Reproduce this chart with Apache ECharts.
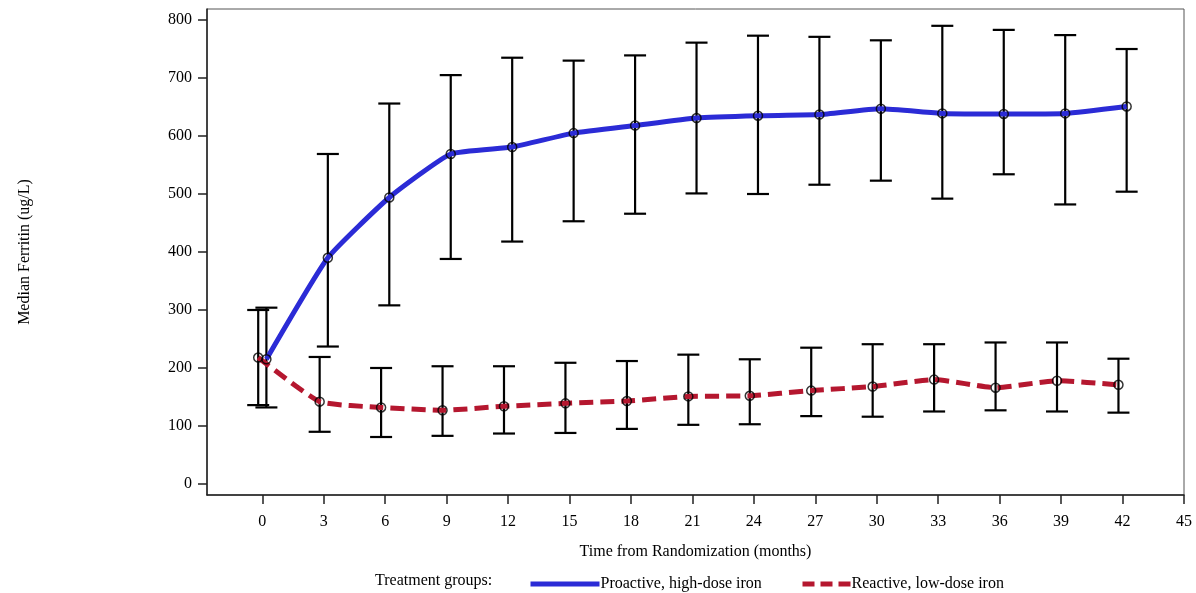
<!DOCTYPE html>
<html>
<head>
<meta charset="utf-8">
<script src="https://cdn.jsdelivr.net/npm/echarts@6/dist/echarts.min.js"></script>
<style>
html,body{margin:0;padding:0;background:#fff;}
#chart{width:1196px;height:593px;}
</style>
</head>
<body>
<div id="chart"></div>
<script>
// ---- data ----
var months = [0, 3, 6, 9, 12, 15, 18, 21, 24, 27, 30, 33, 36, 39, 42];
var proMedian = [214, 389, 493, 568, 580, 604, 617, 630, 634, 636, 646, 638, 637, 638, 650];
var proLow    = [131, 236, 307, 387, 417, 452, 465, 500, 499, 515, 522, 491, 533, 481, 503];
var proHigh   = [303, 568, 655, 704, 734, 729, 738, 760, 772, 770, 764, 789, 782, 773, 749];
var reaMedian = [217, 141, 131, 126, 133, 138, 142, 150, 151, 160, 167, 179, 165, 177, 170];
var reaLow    = [135, 89, 80, 82, 86, 87, 94, 101, 102, 116, 115, 124, 126, 124, 122];
var reaHigh   = [299, 218, 199, 202, 202, 208, 211, 222, 214, 234, 240, 240, 243, 243, 215];
var xTicks = [0, 3, 6, 9, 12, 15, 18, 21, 24, 27, 30, 33, 36, 39, 42, 45];
var yTicks = [0, 100, 200, 300, 400, 500, 600, 700, 800];
var proName = 'Proactive, high-dose iron';
var reaName = 'Reactive, low-dose iron';

// ---- layout / style ----
var proShift = 0.2, reaShift = -0.2;
var FONT = '"Liberation Serif", "DejaVu Serif", serif';
var BLUE = '#2b2bd6', RED = '#b5172f';

function pts(shift, vals) { return months.map(function (m, i) { return [m + shift, vals[i]]; }); }
function bars(shift, lo, hi) { return months.map(function (m, i) { return [m + shift, lo[i], hi[i]]; }); }

function errRender(params, api) {
  var x = api.value(0), lo = api.value(1), hi = api.value(2);
  var pHi = api.coord([x, hi]), pLo = api.coord([x, lo]);
  var w = 11;
  var st = { stroke: '#000', lineWidth: 2.2 };
  return { type: 'group', children: [
    { type: 'line', shape: { x1: pHi[0], y1: pHi[1], x2: pLo[0], y2: pLo[1] }, style: st },
    { type: 'line', shape: { x1: pHi[0] - w, y1: pHi[1], x2: pHi[0] + w, y2: pHi[1] }, style: st },
    { type: 'line', shape: { x1: pLo[0] - w, y1: pLo[1], x2: pLo[0] + w, y2: pLo[1] }, style: st }
  ]};
}

var legendCommon = {
  top: 576, padding: 0, itemHeight: 10, itemGap: 0,
  itemStyle: { color: 'rgba(0,0,0,0)', borderWidth: 0, opacity: 0 },
  textStyle: { fontFamily: FONT, fontSize: 16, color: '#000', padding: [0, 0, 0, -4] }
};

var chart = echarts.init(document.getElementById('chart'), null, { renderer: 'canvas' });
var option = {
  animation: false,
  backgroundColor: '#fff',
  textStyle: { fontFamily: FONT, color: '#000' },
  grid: { left: 207, right: 12, top: 9, bottom: 98, show: true, borderColor: '#555', borderWidth: 1, backgroundColor: 'transparent' },
  xAxis: {
    type: 'value', min: -2.7, max: 45,
    name: 'Time from Randomization (months)', nameLocation: 'middle', nameGap: 49,
    nameTextStyle: { fontFamily: FONT, fontSize: 16, color: '#000' },
    axisLine: { show: true, onZero: false, lineStyle: { color: '#222', width: 1.5 } },
    axisTick: { show: true, length: 9, lineStyle: { color: '#222', width: 1.5 }, customValues: xTicks },
    axisLabel: { fontFamily: FONT, fontSize: 16, color: '#000', margin: 19, customValues: xTicks },
    splitLine: { show: false }
  },
  yAxis: {
    type: 'value', min: -20, max: 818,
    name: 'Median Ferritin (ug/L)', nameLocation: 'middle', nameGap: 174, nameRotate: 90,
    nameTextStyle: { fontFamily: FONT, fontSize: 16, color: '#000' },
    axisLine: { show: true, onZero: false, lineStyle: { color: '#222', width: 1.5 } },
    axisTick: { show: true, length: 9, lineStyle: { color: '#222', width: 1.5 }, customValues: yTicks },
    axisLabel: { fontFamily: FONT, fontSize: 16, color: '#000', margin: 15, customValues: yTicks },
    splitLine: { show: false }
  },
  legend: [
    Object.assign({}, legendCommon, { data: [proName], left: 528, itemWidth: 69,
      lineStyle: { color: BLUE, width: 5 } }),
    Object.assign({}, legendCommon, { data: [reaName], left: 800, itemWidth: 48,
      lineStyle: { color: RED, width: 5, type: [12, 6] } })
  ],
  graphic: [
    { type: 'text', left: 375, top: 573, style: { text: 'Treatment groups:', fontFamily: FONT, fontSize: 16, fill: '#000' } }
  ],
  series: [
    { type: 'custom', name: 'proErr', data: bars(proShift, proLow, proHigh), renderItem: errRender, z: 1, silent: true },
    { type: 'custom', name: 'reaErr', data: bars(reaShift, reaLow, reaHigh), renderItem: errRender, z: 1, silent: true },
    { type: 'line', name: proName, data: pts(proShift, proMedian), symbol: 'none', smooth: 0.15,
      lineStyle: { color: BLUE, width: 5 }, itemStyle: { color: BLUE }, z: 3 },
    { type: 'line', name: reaName, data: pts(reaShift, reaMedian), symbol: 'none', smooth: 0.15,
      lineStyle: { color: RED, width: 5, type: [14, 7] }, itemStyle: { color: RED }, z: 3 },
    { type: 'scatter', name: 'proPts', data: pts(proShift, proMedian), symbol: 'circle', symbolSize: 9,
      itemStyle: { color: 'rgba(0,0,0,0)', borderColor: '#000', borderWidth: 1.5 }, z: 4 },
    { type: 'scatter', name: 'reaPts', data: pts(reaShift, reaMedian), symbol: 'circle', symbolSize: 9,
      itemStyle: { color: 'rgba(0,0,0,0)', borderColor: '#000', borderWidth: 1.5 }, z: 4 }
  ]
};
chart.setOption(option);
</script>
</body>
</html>
